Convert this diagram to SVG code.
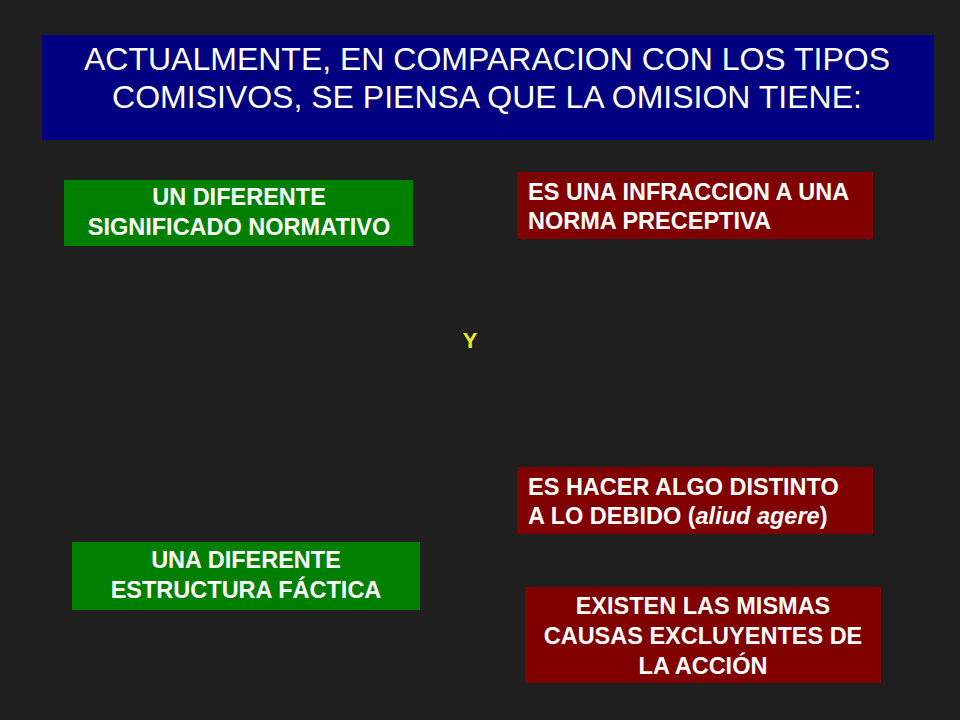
<svg xmlns="http://www.w3.org/2000/svg" width="960" height="720" viewBox="0 0 960 720">
<style>
.t{font-family:"Liberation Sans",Arial,sans-serif;fill:#ffffff}
.title{font-size:32px}
.b{font-size:23.5px;font-weight:bold}
.g{fill:#008000}
.r{fill:#800000}
.c{text-anchor:middle}
</style>
<rect width="960" height="720" fill="#1f1f1f"/>
<g id="title">
<rect x="42" y="35" width="892" height="105" fill="#000080"/>
<text class="t title c" x="487" y="70">ACTUALMENTE, EN COMPARACION CON LOS TIPOS</text>
<text class="t title c" x="487" y="108">COMISIVOS, SE PIENSA QUE LA OMISION TIENE:</text>
</g>
<g id="n-significado">
<rect class="g" x="64" y="180" width="349" height="66"/>
<text class="t b c" x="239" y="204.5">UN DIFERENTE</text>
<text class="t b c" x="239" y="235">SIGNIFICADO NORMATIVO</text>
</g>
<g id="n-infraccion">
<rect class="r" x="517" y="172" width="356" height="67"/>
<text class="t b" x="528" y="200">ES UNA INFRACCION A UNA</text>
<text class="t b" x="528" y="228.5">NORMA PRECEPTIVA</text>
</g>
<g id="n-y">
<text class="t c" x="470" y="348" style="font-size:22px;font-weight:bold;fill:#f0f020">Y</text>
</g>
<g id="n-hacer">
<rect class="r" x="517" y="467" width="356" height="67"/>
<text class="t b" x="528" y="494.5">ES HACER ALGO DISTINTO</text>
<text class="t b" x="528" y="524">A LO DEBIDO (<tspan font-style="italic">aliud agere</tspan>)</text>
</g>
<g id="n-estructura">
<rect class="g" x="72" y="542" width="348" height="68"/>
<text class="t b c" x="246" y="567.5">UNA DIFERENTE</text>
<text class="t b c" x="246" y="598">ESTRUCTURA FÁCTICA</text>
</g>
<g id="n-causas">
<rect class="r" x="525" y="587" width="356" height="96"/>
<text class="t b c" x="703" y="613.5">EXISTEN LAS MISMAS</text>
<text class="t b c" x="703" y="643.5">CAUSAS EXCLUYENTES DE</text>
<text class="t b c" x="703" y="673.5">LA ACCIÓN</text>
</g>
<g id="connectors"/>
</svg>
